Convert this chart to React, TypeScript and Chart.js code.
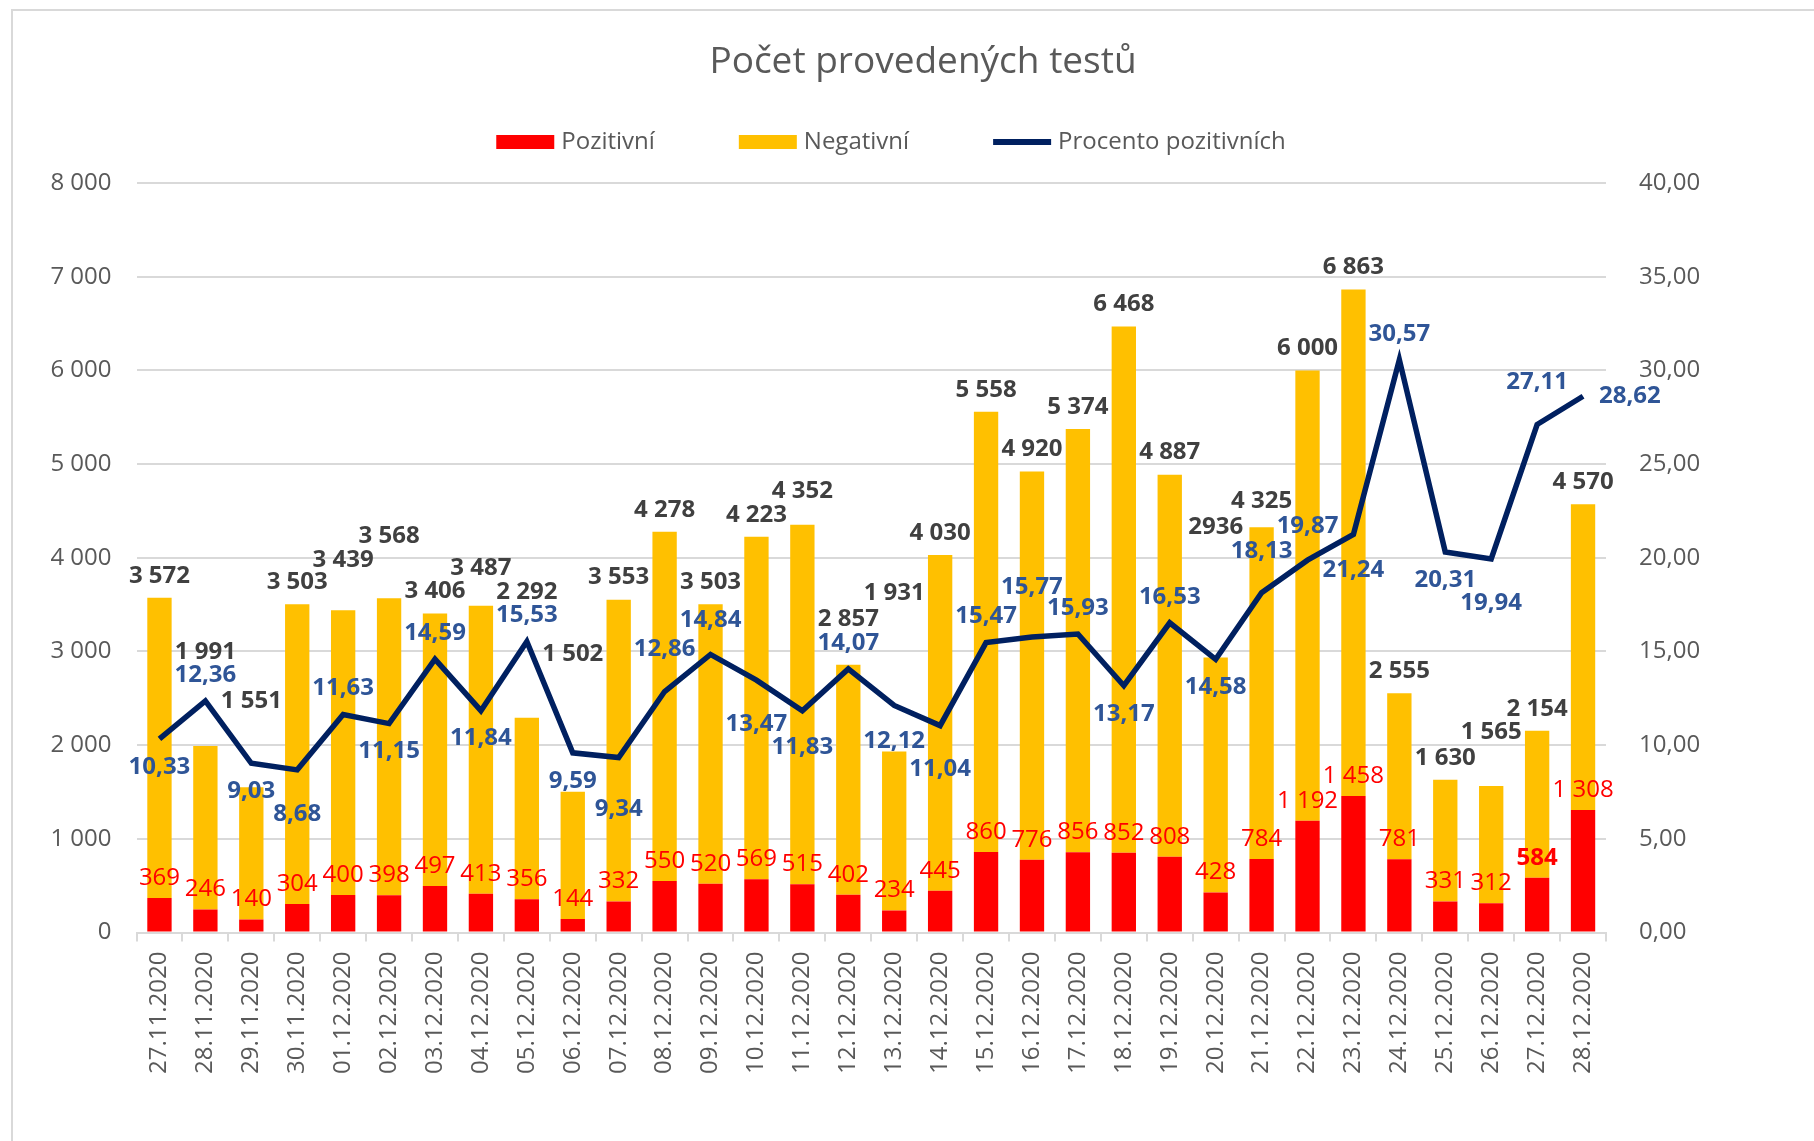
import React, { useEffect, useRef } from 'react';
import { Chart, registerables } from 'chart.js';

Chart.register(...registerables);

const categories = [
  '27.11.2020', '28.11.2020', '29.11.2020', '30.11.2020', '01.12.2020', '02.12.2020', '03.12.2020', '04.12.2020',
  '05.12.2020', '06.12.2020', '07.12.2020', '08.12.2020', '09.12.2020', '10.12.2020', '11.12.2020', '12.12.2020',
  '13.12.2020', '14.12.2020', '15.12.2020', '16.12.2020', '17.12.2020', '18.12.2020', '19.12.2020', '20.12.2020',
  '21.12.2020', '22.12.2020', '23.12.2020', '24.12.2020', '25.12.2020', '26.12.2020', '27.12.2020', '28.12.2020',
];

const positive = [
  369, 246, 140, 304, 400, 398, 497, 413, 356, 144, 332, 550, 520, 569, 515, 402,
  234, 445, 860, 776, 856, 852, 808, 428, 784, 1192, 1458, 781, 331, 312, 584, 1308,
];

const totals = [
  3572, 1991, 1551, 3503, 3439, 3568, 3406, 3487, 2292, 1502, 3553, 4278, 3503, 4223, 4352, 2857,
  1931, 4030, 5558, 4920, 5374, 6468, 4887, 2936, 4325, 6000, 6863, 2555, 1630, 1565, 2154, 4570,
];

const totalLabels = [
  '3 572', '1 991', '1 551', '3 503', '3 439', '3 568', '3 406', '3 487', '2 292', '1 502', '3 553', '4 278',
  '3 503', '4 223', '4 352', '2 857', '1 931', '4 030', '5 558', '4 920', '5 374', '6 468', '4 887', '2936',
  '4 325', '6 000', '6 863', '2 555', '1 630', '1 565', '2 154', '4 570',
];

const percent = [
  10.33, 12.36, 9.03, 8.68, 11.63, 11.15, 14.59, 11.84, 15.53, 9.59, 9.34, 12.86, 14.84, 13.47, 11.83, 14.07,
  12.12, 11.04, 15.47, 15.77, 15.93, 13.17, 16.53, 14.58, 18.13, 19.87, 21.24, 30.57, 20.31, 19.94, 27.11, 28.62,
];

const negative = totals.map((t, i) => t - positive[i]);

const boldPositiveIdx = [30];

const FONT = '"Open Sans", "Noto Sans", sans-serif';
const GRID = '#D9D9D9';
const AXIS_TEXT = '#595959';

const W = 1814;
const H = 1141;
const PLOT_LEFT = 136.5;
const PLOT_RIGHT = 1606;
const PLOT_BOTTOM = 932.5;

const thousands = (v: number) => String(v).replace(/\B(?=(\d{3})+(?!\d))/g, ' ');
const comma2 = (v: number) => v.toFixed(2).replace('.', ',');

type Box = { x1: number; y1: number; x2: number; y2: number };
const overlaps = (a: Box, b: Box) => a.x1 < b.x2 && a.x2 > b.x1 && a.y1 < b.y2 && a.y2 > b.y1;

const decorPlugin = {
  id: 'decor',
  afterLayout(chart: any) {
    const t = chart.titleBlock;
    if (t) {
      t.left = 32;
      t.right = W;
    }
  },
  beforeDraw(chart: any) {
    const ctx = chart.ctx;
    ctx.save();
    ctx.strokeStyle = GRID;
    ctx.lineWidth = 2;
    ctx.beginPath();
    ctx.moveTo(12, H);
    ctx.lineTo(12, 10);
    ctx.lineTo(W, 10);
    ctx.stroke();
    ctx.restore();
  },
  afterDatasetsDraw(chart: any) {
    const ctx = chart.ctx;
    const xs = chart.scales.x;
    const y = chart.scales.y;
    const y1 = chart.scales.y1;
    const placed: Box[] = [];
    const draws: { text: string; x: number; y: number; font: string; color: string }[] = [];
    const pts = percent.map((v, i) => ({ x: xs.getPixelForValue(i), y: y1.getPixelForValue(v) }));
    const hitsLine = (b: Box) => {
      const pad = 3;
      for (let i = 0; i < pts.length - 1; i++) {
        const p = pts[i];
        const q = pts[i + 1];
        for (let t = 0; t <= 1.0001; t += 0.02) {
          const x = p.x + (q.x - p.x) * t;
          const yy = p.y + (q.y - p.y) * t;
          if (x > b.x1 - pad && x < b.x2 + pad && yy > b.y1 - pad && yy < b.y2 + pad) return true;
        }
      }
      return false;
    };
    const collides = (b: Box) => placed.some((o) => overlaps(o, b)) || hitsLine(b);
    const mkBox = (cx: number, cy: number, w: number): Box => ({
      x1: cx - w / 2 - 1,
      x2: cx + w / 2 + 1,
      y1: cy - 11,
      y2: cy + 11,
    });

    ctx.save();
    // positive labels
    categories.forEach((_, i) => {
      const x = xs.getPixelForValue(i);
      const font = `${boldPositiveIdx.includes(i) ? 'bold ' : ''}24px ${FONT}`;
      ctx.font = font;
      const text = thousands(positive[i]);
      const w = ctx.measureText(text).width;
      const cy = y.getPixelForValue(positive[i]) - 20;
      placed.push(mkBox(x, cy, w));
      draws.push({ text, x, y: cy, font, color: '#FF0000' });
    });
    // percent labels
    const last = categories.length - 1;
    categories.forEach((_, i) => {
      const x = pts[i].x;
      const py = pts[i].y;
      const v = percent[i];
      const prev = percent[i - 1];
      const next = percent[i + 1];
      const isMax = (prev === undefined || v >= prev) && (next === undefined || v >= next);
      const isMin = (prev === undefined || v <= prev) && (next === undefined || v <= next);
      let above: boolean;
      if (isMax) above = true;
      else if (isMin) above = false;
      else above = v > prev;
      const font = `bold 24px ${FONT}`;
      ctx.font = font;
      const text = comma2(v);
      const w = ctx.measureText(text).width;
      const cands: { dx: number; dy: number }[] = [];
      if (i === last) cands.push({ dx: w / 2 + 16, dy: 0 });
      for (let k = 0; k < 4; k++) cands.push({ dx: 0, dy: above ? -26 - 8 * k : 28 + 8 * k });
      for (let k = 0; k < 4; k++) cands.push({ dx: 0, dy: above ? 28 + 8 * k : -26 - 8 * k });
      cands.push({ dx: w / 2 + 14, dy: 0 });
      cands.push({ dx: -(w / 2 + 14), dy: 0 });
      let chosen = cands[0];
      for (const c of cands) {
        if (!collides(mkBox(x + c.dx, py + c.dy, w))) {
          chosen = c;
          break;
        }
      }
      placed.push(mkBox(x + chosen.dx, py + chosen.dy, w));
      draws.push({ text, x: x + chosen.dx, y: py + chosen.dy, font, color: '#2F5597' });
    });
    // total labels
    categories.forEach((_, i) => {
      const x = xs.getPixelForValue(i);
      const font = `bold 24px ${FONT}`;
      ctx.font = font;
      const text = totalLabels[i];
      const w = ctx.measureText(text).width;
      const base = y.getPixelForValue(totals[i]) - 22;
      let cy = base;
      for (let k = 0; k < 80; k++) {
        const c = base - 4 * k;
        if (!collides(mkBox(x, c, w))) {
          cy = c;
          break;
        }
      }
      placed.push(mkBox(x, cy, w));
      draws.push({ text, x, y: cy, font, color: '#404040' });
    });

    ctx.textAlign = 'center';
    ctx.textBaseline = 'middle';
    draws.forEach((d) => {
      ctx.font = d.font;
      ctx.fillStyle = d.color;
      ctx.fillText(d.text, d.x, d.y);
    });
    ctx.restore();
  },
  afterDraw(chart: any) {
    const ctx = chart.ctx;
    ctx.save();
    ctx.font = `24px ${FONT}`;
    ctx.textBaseline = 'middle';
    ctx.textAlign = 'left';
    const ds = chart.data.datasets;
    const legendOrder = [0, 1, 2];
    const boxW = 58;
    const gap = 7;
    const between = 84;
    const widths = legendOrder.map((k) => boxW + gap + ctx.measureText(ds[k].label).width);
    const total = widths.reduce((a: number, b: number) => a + b, 0) + between * (legendOrder.length - 1);
    let cx = 891 - total / 2;
    const cy = 142;
    legendOrder.forEach((k, j) => {
      const d = ds[k];
      if (d.type === 'line') {
        ctx.fillStyle = d.borderColor;
        ctx.fillRect(cx, cy - 3, boxW, 6);
      } else {
        ctx.fillStyle = d.backgroundColor;
        ctx.fillRect(cx, cy - 7, boxW, 14);
      }
      ctx.fillStyle = AXIS_TEXT;
      ctx.fillText(d.label, cx + boxW + gap, cy);
      cx += widths[j] + between;
    });
    ctx.restore();
  },
};

export default function App() {
  const canvasRef = useRef<HTMLCanvasElement | null>(null);

  useEffect(() => {
    const canvas = canvasRef.current;
    if (!canvas) return;
    const titleSize = 37;
    const titleLine = titleSize * 1.2;
    const padTop = 62 - titleLine / 2;
    const padBottom = 183 - padTop - titleLine;
    const chart = new Chart(canvas, {
      type: 'bar',
      data: {
        labels: categories,
        datasets: [
          {
            type: 'bar',
            label: 'Pozitivní',
            data: positive,
            backgroundColor: '#FF0000',
            yAxisID: 'y',
            order: 1,
            categoryPercentage: 1,
            barPercentage: 0.53,
          },
          {
            type: 'bar',
            label: 'Negativní',
            data: negative,
            backgroundColor: '#FFC000',
            yAxisID: 'y',
            order: 1,
            categoryPercentage: 1,
            barPercentage: 0.53,
          },
          {
            type: 'line',
            label: 'Procento pozitivních',
            data: percent,
            borderColor: '#002060',
            backgroundColor: '#002060',
            borderWidth: 5.5,
            pointRadius: 0,
            tension: 0,
            yAxisID: 'y1',
            order: 0,
          },
        ] as any,
      },
      options: {
        animation: false,
        responsive: false,
        devicePixelRatio: 1,
        layout: { padding: { top: 0, left: 0, right: 0, bottom: 0 } },
        plugins: {
          legend: { display: false },
          tooltip: { enabled: false },
          title: {
            display: true,
            text: 'Počet provedených testů',
            color: AXIS_TEXT,
            font: { family: FONT, size: titleSize, weight: 'normal' },
            padding: { top: padTop, bottom: padBottom },
          },
        },
        scales: {
          x: {
            stacked: true,
            offset: true,
            grid: {
              display: true,
              drawOnChartArea: false,
              drawTicks: true,
              tickLength: 9,
              color: GRID,
              lineWidth: 2,
              offset: true,
            },
            border: { display: true, color: GRID, width: 2 },
            ticks: {
              autoSkip: false,
              minRotation: 90,
              maxRotation: 90,
              padding: 10,
              color: AXIS_TEXT,
              font: { family: FONT, size: 24 },
            },
            afterFit: (s: any) => {
              s.height = H - PLOT_BOTTOM;
            },
          },
          y: {
            stacked: true,
            position: 'left',
            min: 0,
            max: 8000,
            ticks: {
              stepSize: 1000,
              padding: 25,
              color: AXIS_TEXT,
              font: { family: FONT, size: 24 },
              callback: (v: any) => thousands(Number(v)),
            },
            grid: { color: GRID, lineWidth: 2, drawTicks: false },
            border: { display: false },
            afterFit: (s: any) => {
              s.width = PLOT_LEFT;
            },
          },
          y1: {
            position: 'right',
            min: 0,
            max: 40,
            ticks: {
              stepSize: 5,
              padding: 25,
              color: AXIS_TEXT,
              font: { family: FONT, size: 24 },
              callback: (v: any) => comma2(Number(v)),
            },
            grid: { display: false },
            border: { display: false },
            afterFit: (s: any) => {
              s.width = W - PLOT_RIGHT;
            },
          },
        },
      } as any,
      plugins: [decorPlugin],
    });
    return () => chart.destroy();
  }, []);

  return (
    <div style={{ position: 'absolute', left: 0, top: 0, width: W, height: H, background: '#fff' }}>
      <canvas ref={canvasRef} width={W} height={H} style={{ display: 'block' }} />
    </div>
  );
}
